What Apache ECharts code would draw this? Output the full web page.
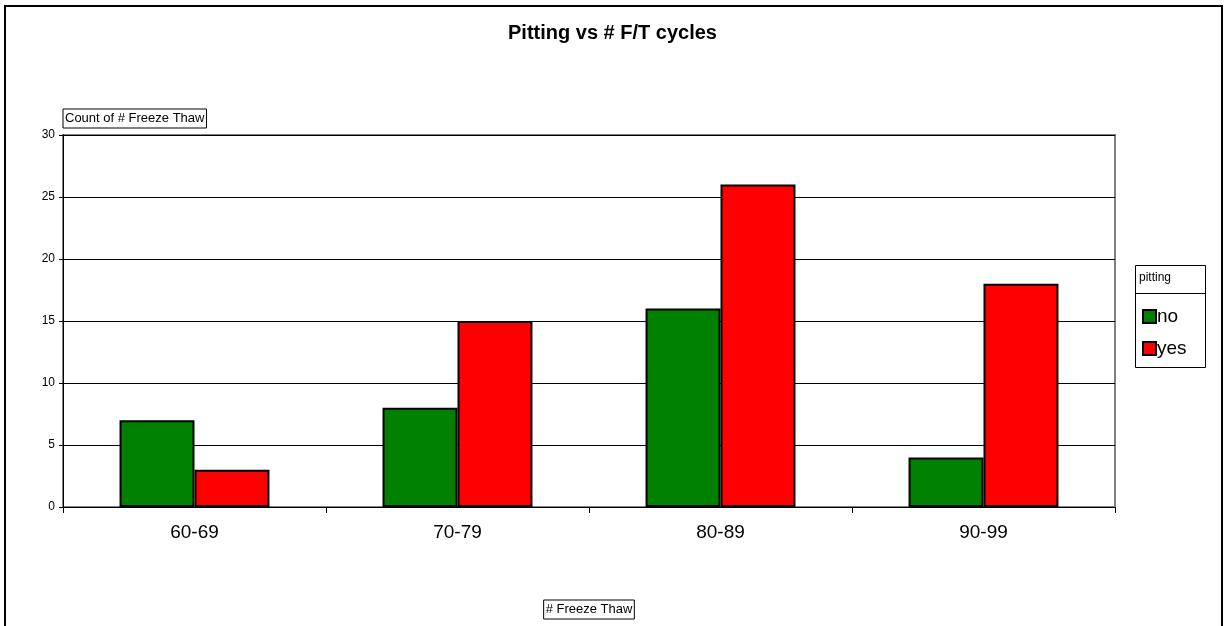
<!DOCTYPE html>
<html>
<head>
<meta charset="utf-8">
<script src="https://cdn.jsdelivr.net/npm/echarts@6/dist/echarts.min.js"></script>
<style>
  html, body { margin: 0; padding: 0; background: #fff; }
  #main { width: 1225px; height: 626px; }
</style>
</head>
<body>
<div id="main"></div>
<script>
var categories = [ '60-69', '70-79', '80-89', '90-99' ];
var noData = [ 7, 8, 16, 4 ];
var yesData = [ 3, 15, 26, 18 ];

var chart = echarts.init(document.getElementById('main'));

var option = {
	backgroundColor : '#fff',
	animation : false,
	title : {
		text : 'Pitting vs # F/T cycles',
		left : 'center',
		top : 18,
		textStyle : {
			fontFamily : 'Arial, Liberation Sans',
			fontSize : 20,
			fontWeight : 'bold',
			color : '#000'
		}
	},
	graphic : [ {
		type : 'rect',
		shape : { x : 5, y : 6, width : 1217, height : 640 },
		style : { fill : 'none', stroke : '#000', lineWidth : 2 },
		silent : true
	}, {
		type : 'rect',
		shape : { x : 1135.5, y : 265.5, width : 70, height : 102 },
		style : { fill : '#fff', stroke : '#000', lineWidth : 1 },
		z : 1
	}, {
		type : 'line',
		shape : { x1 : 1135.5, y1 : 293.5, x2 : 1205.5, y2 : 293.5 },
		style : { stroke : '#000', lineWidth : 1 },
		z : 2
	}, {
		type : 'text',
		left : 1139,
		top : 272,
		style : {
			text : 'pitting',
			font : '12px Arial, Liberation Sans',
			fill : '#000'
		},
		z : 2
	} ],
	legend : {
		orient : 'vertical',
		left : 1137,
		top : 302,
		itemWidth : 13,
		itemHeight : 13,
		itemGap : 13,
		icon : 'rect',
		textStyle : {
			fontFamily : 'Arial, Liberation Sans',
			fontSize : 19,
			color : '#000',
			padding : [ 0, 0, 0, -4 ]
		},
		data : [ 'no', 'yes' ],
		z : 5
	},
	grid : {
		left : 63,
		top : 135,
		right : 110,
		bottom : 119,
		show : true,
		borderColor : '#808080',
		borderWidth : 2
	},
	xAxis : {
		type : 'category',
		data : categories,
		name : '# Freeze Thaw',
		nameLocation : 'middle',
		nameGap : 93,
		nameTextStyle : {
			fontFamily : 'Arial, Liberation Sans',
			fontSize : 13,
			color : '#000',
			borderColor : '#000',
			borderWidth : 1,
			padding : [ 3, 2, 3, 2 ]
		},
		axisLine : { lineStyle : { color : '#000', width : 1 } },
		axisTick : { show : true, length : 6, lineStyle : { color : '#000' } },
		axisLabel : {
			fontFamily : 'Arial, Liberation Sans',
			fontSize : 19,
			color : '#000',
			margin : 16
		}
	},
	yAxis : {
		type : 'value',
		min : 0,
		max : 30,
		interval : 5,
		name : 'Count of # Freeze Thaw',
		nameLocation : 'end',
		nameGap : 7,
		nameTextStyle : {
			fontFamily : 'Arial, Liberation Sans',
			fontSize : 13,
			color : '#000',
			align : 'left',
			borderColor : '#000',
			borderWidth : 1,
			padding : [ 3, 2, 3, 2 ]
		},
		axisLine : { show : true, lineStyle : { color : '#000', width : 1 } },
		axisTick : { show : true, length : 4, lineStyle : { color : '#000' } },
		axisLabel : {
			fontFamily : 'Arial, Liberation Sans',
			fontSize : 12,
			color : '#000',
			margin : 8
		},
		splitLine : { lineStyle : { color : '#000', width : 1 } }
	},
	series : [ {
		name : 'no',
		type : 'bar',
		data : noData,
		barGap : '0%',
		barCategoryGap : '43%',
		itemStyle : { color : '#008000', borderColor : '#000', borderWidth : 2 }
	}, {
		name : 'yes',
		type : 'bar',
		data : yesData,
		barGap : '0%',
		barCategoryGap : '43%',
		itemStyle : { color : '#ff0000', borderColor : '#000', borderWidth : 2 }
	} ]
};

chart.setOption(option);
</script>
</body>
</html>
